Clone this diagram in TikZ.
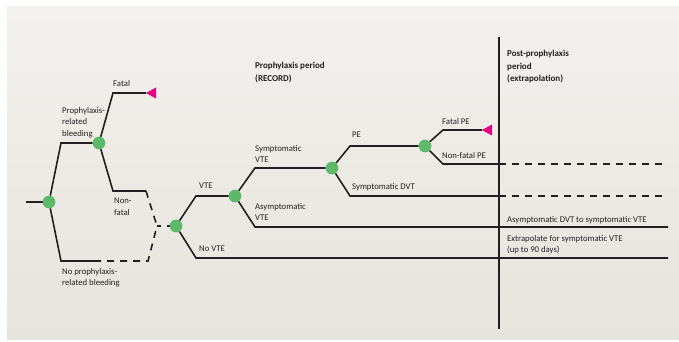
\documentclass[tikz,border=0pt]{standalone}
\usepackage{fontspec}
\setmainfont{Carlito}
\begin{document}
\begin{tikzpicture}[x=1pt,y=-1pt,
  line/.style={draw=linec,line width=1.6pt},
  dashline/.style={line,dash pattern=on 7pt off 6pt},
  dot/.style={circle,fill=dotg,minimum size=12.5pt,inner sep=0pt},
  lab/.style={anchor=north west,inner sep=0pt,align=left,text=textc,font=\fontsize{8.7}{11.6}\selectfont},
  head/.style={lab,font=\bfseries\fontsize{9}{12.6}\selectfont},
  tri/.style={fill=tripink}]
\definecolor{linec}{HTML}{231F20}
\definecolor{textc}{HTML}{231F20}
\definecolor{dotg}{HTML}{5DB96A}
\definecolor{tripink}{HTML}{E5007D}
\definecolor{bgtop}{HTML}{F3F1EE}
\definecolor{bgbot}{HTML}{E7E3DD}
\useasboundingbox (0,0) rectangle (679,342);
\fill[white] (0,0) rectangle (679,342);
\shade[top color=bgtop,bottom color=bgbot] (7,7) rectangle (679,339);

% green nodes
\node[dot] (root) at (49,202) {};
\node[dot] (bleed) at (99,143) {};
\node[dot] (vte) at (176,226) {};
\node[dot] (vtey) at (235,196) {};
\node[dot] (symp) at (332,168) {};
\node[dot] (pe) at (425,146) {};

% corner coordinates
\coordinate (start) at (26,202);
\coordinate (b1) at (61,143);
\coordinate (b2) at (61,261);
\coordinate (b2s) at (98,261);
\coordinate (b2e) at (148,261);
\coordinate (f1) at (113,93);
\coordinate (ftip) at (146,93);
\coordinate (nf1) at (113,191);
\coordinate (nf2) at (146,191);
\coordinate (mg) at (157,226);
\coordinate (v1) at (196,196);
\coordinate (nv1) at (196,258);
\coordinate (nv2) at (668,258);
\coordinate (s1) at (255,168);
\coordinate (a1) at (255,227);
\coordinate (a2) at (668,227);
\coordinate (p1) at (350,146);
\coordinate (d1) at (350,196);
\coordinate (d2) at (499,196);
\coordinate (d3) at (668,196);
\coordinate (fp1) at (443,130);
\coordinate (fptip) at (482,130);
\coordinate (np1) at (443,164);
\coordinate (np2) at (499,164);
\coordinate (np3) at (668,164);
\coordinate (vt) at (499,37);
\coordinate (vb) at (499,329);

% connectors
\draw[line] (start) -- (root);
\draw[line] (root) -- (b1) -- (bleed);
\draw[line] (root) -- (b2) -- (b2s);
\draw[dashline,dash phase=4pt] (b2s) -- (b2e) -- (mg);
\draw[line] (bleed) -- (f1) -- (ftip);
\draw[line] (bleed) -- (nf1) -- (nf2);
\draw[dashline] (nf2) -- (mg);
\draw[dashline,dash pattern=on 4pt off 6pt on 5pt off 10pt] (mg) -- (vte);
\draw[line] (vte) -- (v1) -- (vtey);
\draw[line] (vte) -- (nv1) -- (nv2);
\draw[line] (vtey) -- (s1) -- (symp);
\draw[line] (vtey) -- (a1) -- (a2);
\draw[line] (symp) -- (p1) -- (pe);
\draw[line] (symp) -- (d1) -- (d2);
\draw[dashline] (d2) -- (d3);
\draw[line] (pe) -- (fp1) -- (fptip);
\draw[line] (pe) -- (np1) -- (np2);
\draw[dashline] (np2) -- (np3);
\draw[draw=linec,line width=2.4pt] (vt) -- (vb);

% redraw dots on top
\foreach \n in {root,bleed,vte,vtey,symp,pe} \fill[dotg] (\n) circle (6.25pt);

% pink end markers
\fill[tri] (ftip) -- ++(10,-5.5) -- ++(0,11) -- cycle;
\fill[tri] (fptip) -- ++(10,-5.5) -- ++(0,11) -- cycle;

% labels
\node[lab] (lbleed) at (62,107) {Prophylaxis-\\related\\bleeding};
\node[lab] (lfatal) at (113,80) {Fatal};
\node[lab] (lnonfatal) at (114,198) {Non-\\fatal};
\node[lab] (lnobleed) at (62,268) {No prophylaxis-\\related bleeding};
\node[lab] (lvte) at (199,183) {VTE};
\node[lab] (lnovte) at (199,246) {No VTE};
\node[lab] (lsvte) at (255,145) {Symptomatic\\VTE};
\node[lab] (lavte) at (255,203) {Asymptomatic\\VTE};
\node[lab] (lpe) at (352,132) {PE};
\node[lab] (lsdvt) at (352,183) {Symptomatic DVT};
\node[lab] (lfpe) at (442,118) {Fatal PE};
\node[lab] (lnfpe) at (442,152) {Non-fatal PE};
\node[lab] (ladvt) at (507,216) {Asymptomatic DVT to symptomatic VTE};
\node[lab] (lextra) at (507,235) {Extrapolate for symptomatic VTE\\(up to 90 days)};
\node[head] (hpro) at (255,62) {Prophylaxis period\\(RECORD)};
\node[head] (hpost) at (507,50) {Post-prophylaxis\\period\\(extrapolation)};
\end{tikzpicture}
\end{document}
